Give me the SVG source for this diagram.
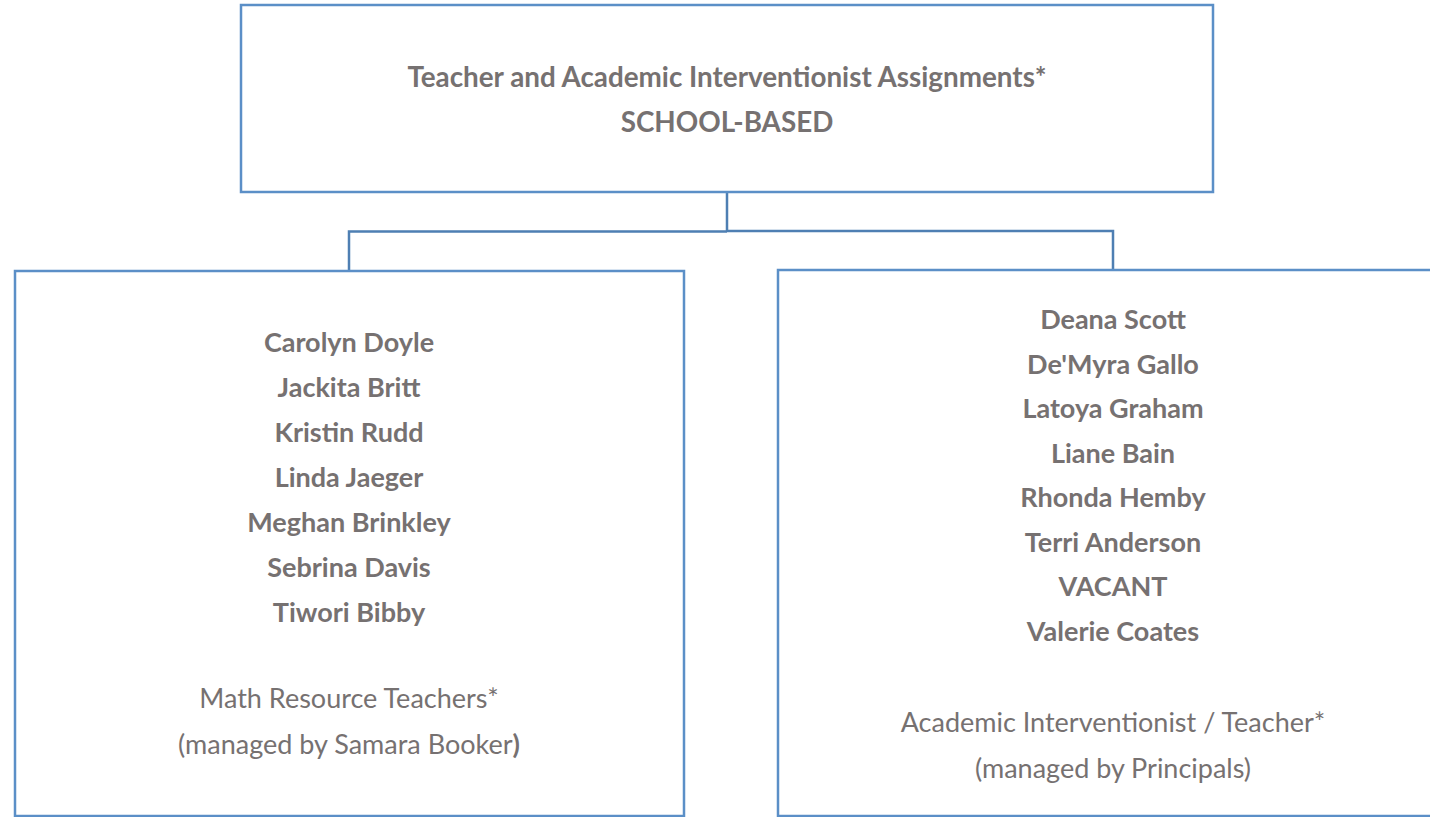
<svg xmlns="http://www.w3.org/2000/svg" width="1430" height="817" viewBox="0 0 1430 817">
<style>
.box{fill:#fff;stroke:#5b8fc7;stroke-width:2.5}
.conn{fill:none;stroke:#4e7fb3;stroke-width:2.5}
text{font-family:Lato,"Liberation Sans",sans-serif;fill:#767171;text-anchor:middle;font-size:27px}
.b{font-weight:bold}
.t{font-size:27.8px}
</style>
<rect width="1430" height="817" fill="#fff"/>
<g id="connectors">
<path class="conn" d="M727,192 V231.5 M349,270 V231.5 H727 M727,231 H1113 V270"/>
</g>
<g id="top">
<rect class="box" x="241" y="5" width="972" height="187"/>
<text class="b t" x="727" y="87">Teacher and Academic Interventionist Assignments*</text>
<text class="b t" x="727" y="132">SCHOOL-BASED</text>
</g>
<g id="math">
<rect class="box" x="15" y="271" width="669" height="545"/>
<text class="b" x="349" y="352">Carolyn Doyle</text>
<text class="b" x="349" y="397">Jackita Britt</text>
<text class="b" x="349" y="442">Kristin Rudd</text>
<text class="b" x="349" y="487">Linda Jaeger</text>
<text class="b" x="349" y="532">Meghan Brinkley</text>
<text class="b" x="349" y="577">Sebrina Davis</text>
<text class="b" x="349" y="622">Tiwori Bibby</text>
<text x="349" y="708">Math Resource Teachers*</text>
<text x="349" y="754">(managed by Samara Booker<tspan font-weight="bold">)</tspan></text>
</g>
<g id="ai">
<rect class="box" x="778" y="270" width="700" height="546"/>
<text class="b" x="1113" y="329">Deana Scott</text>
<text class="b" x="1113" y="373.5">De'Myra Gallo</text>
<text class="b" x="1113" y="418">Latoya Graham</text>
<text class="b" x="1113" y="462.5">Liane Bain</text>
<text class="b" x="1113" y="507">Rhonda Hemby</text>
<text class="b" x="1113" y="551.5">Terri Anderson</text>
<text class="b" x="1113" y="596">VACANT</text>
<text class="b" x="1113" y="640.5">Valerie Coates</text>
<text x="1113" y="732">Academic Interventionist / Teacher*</text>
<text x="1113" y="778">(managed by Principals)</text>
</g>
</svg>
